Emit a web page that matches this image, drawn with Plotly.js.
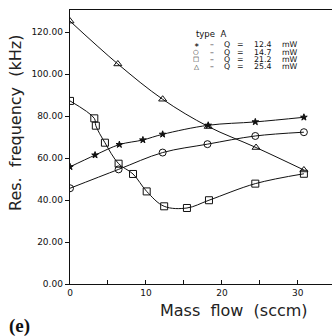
<!DOCTYPE html>
<html>
<head>
<meta charset="utf-8">
<script src="https://cdn.plot.ly/plotly-3.0.1.min.js"></script>
<style>html,body{margin:0;padding:0;background:#fff;}#chart{width:332px;height:336px;}</style>
</head>
<body>
<div id="chart"></div>
<script>
// Mass flow (sccm) and resonance frequency (kHz) per heating power
var x124 = [0, 3.3, 6.5, 9.6, 12.2, 18.2, 24.4, 30.8];
var y124 = [55.8, 61.4, 66.4, 68.6, 71.3, 75.6, 77.2, 79.4];
var x147 = [0, 6.4, 12.2, 18.1, 24.4, 30.8];
var y147 = [45.6, 54.6, 62.6, 66.6, 70.5, 72.3];
var x212 = [0, 3.2, 3.4, 4.6, 6.4, 8.3, 10.1, 12.4, 15.4, 18.3, 24.4, 30.8];
var y212 = [87.2, 78.9, 75.4, 67.3, 57.3, 52.4, 44.1, 37.0, 36.2, 39.9, 47.8, 52.5];
var x254 = [0, 6.3, 12.2, 18.2, 24.5, 30.8];
var y254 = [125.2, 104.8, 88.0, 75.0, 65.0, 54.3];

var powers = ['12.4', '14.7', '21.2', '25.4'];
var legendMarks = ['∗', '○', '□', '△'];
var yTickVals = [0, 20, 40, 60, 80, 100, 120];
var xTickVals = [0, 10, 20, 30];

var symbols = ['star', 'circle-open', 'square-open', 'triangle-up-open'];
var sizes = [5, 7, 7, 7];
var xs = [x124, x147, x212, x254];
var ys = [y124, y147, y212, y254];

var traces = xs.map(function (xv, i) {
  return {
    x: xv, y: ys[i], type: 'scatter', mode: 'lines+markers',
    line: {color: '#111', width: 1, shape: 'spline', smoothing: 1},
    marker: {symbol: symbols[i], size: sizes[i], color: '#111', line: {color: '#111', width: 1}},
    showlegend: false, hoverinfo: 'skip'
  };
});

var F = 'DejaVu Sans, Liberation Sans, sans-serif';
function px(v) { return (v - 70) / 262; }
function py(v) { return (284 - v) / 274; }
var ann = [];
ann.push({xref: 'paper', yref: 'paper', x: px(194), y: py(34), xanchor: 'left', yanchor: 'middle',
  text: 'type  A', showarrow: false, font: {family: F, size: 8.5, color: '#111'}});
var rowY = [44.8, 52.1, 59.4, 66.7];
powers.forEach(function (p, i) {
  var yy = py(rowY[i]);
  var f = {family: F, size: 7.8, color: '#111'};
  ann.push({xref: 'paper', yref: 'paper', x: px(196), y: yy, xanchor: 'center', yanchor: 'middle', text: legendMarks[i], showarrow: false, font: {family: F, size: 6.5, color: '#111'}});
  ann.push({xref: 'paper', yref: 'paper', x: px(212), y: yy, xanchor: 'center', yanchor: 'middle', text: '–', showarrow: false, font: f});
  ann.push({xref: 'paper', yref: 'paper', x: px(226.5), y: yy, xanchor: 'center', yanchor: 'middle', text: 'Q', showarrow: false, font: f});
  ann.push({xref: 'paper', yref: 'paper', x: px(240), y: yy, xanchor: 'center', yanchor: 'middle', text: '=', showarrow: false, font: f});
  ann.push({xref: 'paper', yref: 'paper', x: px(252), y: yy, xanchor: 'left', yanchor: 'middle', text: p, showarrow: false, font: f});
  ann.push({xref: 'paper', yref: 'paper', x: px(280), y: yy, xanchor: 'left', yanchor: 'middle', text: 'mW', showarrow: false, font: f});
});
// axis titles
ann.push({xref: 'paper', yref: 'paper', x: px(234), y: py(310), xanchor: 'center', yanchor: 'middle',
  text: 'Mass  flow  (sccm)', showarrow: false, font: {family: F, size: 16, color: '#222'}});
ann.push({xref: 'paper', yref: 'paper', x: px(15), y: py(123), xanchor: 'center', yanchor: 'middle', textangle: -90,
  text: 'Res.  frequency  (kHz)', showarrow: false, font: {family: F, size: 16, color: '#222'}});
ann.push({xref: 'paper', yref: 'paper', x: px(7), y: py(326), xanchor: 'left', yanchor: 'middle',
  text: '<b>(e)</b>', showarrow: false, font: {family: 'Liberation Serif, DejaVu Serif, serif', size: 19, color: '#111'}});

var layout = {
  width: 332, height: 336,
  margin: {l: 70, r: 0, t: 10, b: 52},
  paper_bgcolor: '#fff', plot_bgcolor: '#fff',
  xaxis: {range: [0, 34.5], tickvals: xTickVals, ticktext: xTickVals.map(String), ticks: 'inside', ticklen: 4, tickcolor: '#111',
    minor: {dtick: 5, ticks: 'inside', ticklen: 4, tickcolor: '#111', showgrid: false},
    showline: true, linecolor: '#111', linewidth: 1.3, mirror: true, showgrid: false, zeroline: false,
    tickfont: {family: F, size: 9, color: '#111'}},
  yaxis: {range: [0, 130.5], tickvals: yTickVals, ticktext: yTickVals.map(function (v) { return v.toFixed(2); }),
    ticks: 'outside', ticklen: 4, tickcolor: '#111',
    showline: true, linecolor: '#111', linewidth: 1.3, mirror: false, showgrid: false, zeroline: false,
    tickfont: {family: F, size: 9, color: '#111'}},
  annotations: ann,
  showlegend: false
};

Plotly.newPlot('chart', traces, layout, {staticPlot: true, displayModeBar: false});
</script>
</body>
</html>
